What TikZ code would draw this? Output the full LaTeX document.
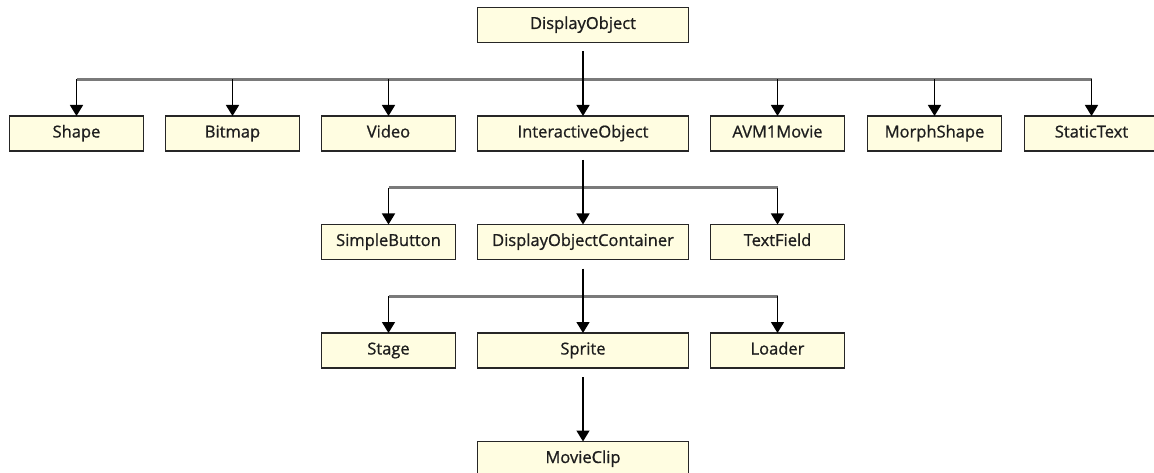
\documentclass[tikz,border=0pt]{standalone}
\usepackage{fontspec}
\setmainfont{Open Sans}
\newfontfamily\classfont[FakeBold=0.9]{Open Sans}
\usepackage{xcolor}
\definecolor{cBox}{HTML}{FFFDE1}
\definecolor{cEdge}{HTML}{262626}
\definecolor{cBus}{HTML}{7A7A7A}
\definecolor{cText}{HTML}{1E1E1E}
\usetikzlibrary{positioning,arrows.meta,calc}
\tikzset{
  class-box/.style={draw=cEdge,line width=1.4pt,fill=cBox,outer sep=0pt,
    minimum width=134pt,minimum height=35pt,align=center,text=cText,
    text height=11.5pt,text depth=3.5pt,
    font=\classfont\fontsize{16.5}{18}\selectfont},
  class-wide/.style={class-box,minimum width=211pt},
  % grey horizontal rail that the child arrows hang from
  bus/.style={draw=cBus,line width=2.8pt},
  stem/.style={-{Triangle[width=13pt,length=11pt]},line width=1.5pt,draw=black},
}

\begin{document}
\begin{tikzpicture}[x=1pt,y=-1pt]
  \useasboundingbox (0,0) rectangle (1154,473);
  \clip (0,0) rectangle (1154,473);

  % root
  \node[class-wide] (display) at (583,25) {DisplayObject};

  % first level
  \node[class-wide,below=73.5pt of display] (interactive) {InteractiveObject};
  \node[class-box,left=22pt of interactive] (video) {Video};
  \node[class-box,left=22pt of video] (bitmap) {Bitmap};
  \node[class-box,left=22pt of bitmap] (shape) {Shape};
  \node[class-box,right=22pt of interactive] (avm) {AVM1Movie};
  \node[class-box,right=23pt of avm] (morph) {MorphShape};
  \node[class-box,right=23pt of morph] (static) {StaticText};

  % second level
  \node[class-wide,below=73.5pt of interactive] (container) {DisplayObjectContainer};
  \node[class-box,left=22pt of container] (button) {SimpleButton};
  \node[class-box,right=22pt of container] (textfield) {TextField};

  % third level
  \node[class-wide,below=73.5pt of container] (sprite) {Sprite};
  \node[class-box,left=22pt of sprite] (stage) {Stage};
  \node[class-box,right=22pt of sprite] (loader) {Loader};

  \node[class-wide,below=73.5pt of sprite] (movieclip) {MovieClip};

  \coordinate (bus1) at ($(display.south)!0.5!(interactive.north)$);
  \coordinate (bus2) at ($(interactive.south)!0.5!(container.north)$);
  \coordinate (bus3) at ($(container.south)!0.5!(sprite.north)$);

  \draw[bus] (shape.north |- bus1) -- (static.north |- bus1);
  \draw[bus] (button.north |- bus2) -- (textfield.north |- bus2);
  \draw[bus] (stage.north |- bus3) -- (loader.north |- bus3);

  \draw[stem,shorten <=9pt] (display) -- (interactive);
  \draw[stem,shorten <=9pt] (interactive) -- (container);
  \draw[stem,shorten <=9pt] (container) -- (sprite);
  \draw[stem,shorten <=9pt] (sprite) -- (movieclip);

  \foreach \child in {shape,bitmap,video,avm,morph,static}
    \draw[stem] (\child.north |- bus1) -- (\child.north);
  \foreach \child in {button,textfield}
    \draw[stem] (\child.north |- bus2) -- (\child.north);
  \foreach \child in {stage,loader}
    \draw[stem] (\child.north |- bus3) -- (\child.north);
\end{tikzpicture}
\end{document}
